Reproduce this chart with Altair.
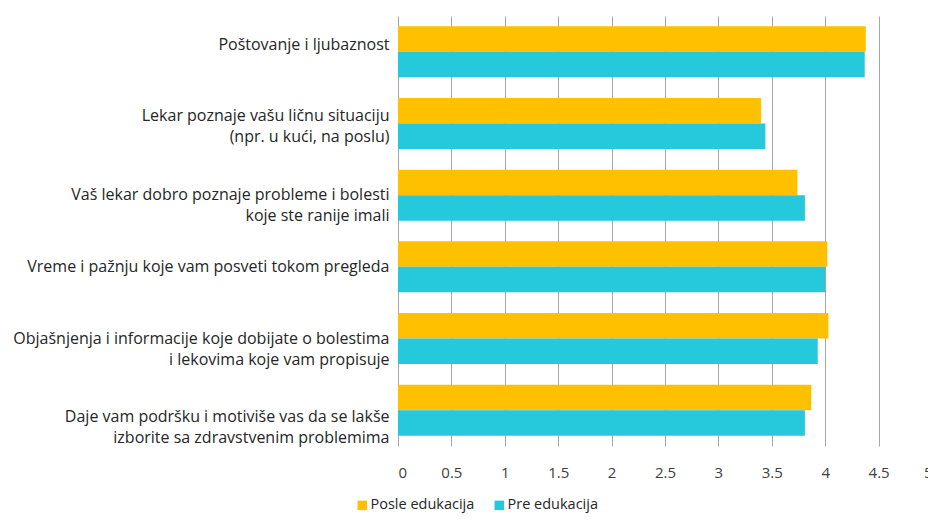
import altair as alt
import pandas as pd

categories = [
    "Poštovanje i ljubaznost",
    "Lekar poznaje vašu ličnu situaciju|(npr. u kući, na poslu)",
    "Vaš lekar dobro poznaje probleme i bolesti|koje ste ranije imali",
    "Vreme i pažnju koje vam posveti tokom pregleda",
    "Objašnjenja i informacije koje dobijate o bolestima|i lekovima koje vam propisuje",
    "Daje vam podršku i motiviše vas da se lakše|izborite sa zdravstvenim problemima",
]
label_shift = [-7, -8, 0, 0, 0, 7]
series = ["Posle edukacija", "Pre edukacija"]
posle = [4.38, 3.40, 3.74, 4.02, 4.03, 3.87]
pre = [4.37, 3.44, 3.81, 4.00, 3.93, 3.81]
x_ticks = [0, 0.5, 1, 1.5, 2, 2.5, 3, 3.5, 4, 4.5, 5]
colors = ["#FFC000", "#26C8DC"]

rows = []
for c, a, b in zip(categories, posle, pre):
    rows.append({"category": c, "series": series[0], "value": a})
    rows.append({"category": c, "series": series[1], "value": b})
df = pd.DataFrame(rows)

offset_conditions = [
    {"test": f"datum.value == '{c}'", "value": s}
    for c, s in zip(categories, label_shift) if s != 0
]

chart = alt.Chart(df).mark_bar().encode(
    x=alt.X(
        "value:Q",
        scale=alt.Scale(domain=[0, 5], nice=False, zero=True),
        axis=alt.Axis(
            values=x_ticks, title=None, grid=True, gridColor="#a6a6a6",
            domain=False, ticks=False, labelFontSize=15,
            labelColor="#404040", labelPadding=19, format="~g",
        ),
    ),
    y=alt.Y(
        "category:N", sort=categories,
        scale=alt.Scale(paddingInner=0.288, paddingOuter=0.144),
        axis=alt.Axis(
            title=None, ticks=False, domain=False,
            labelExpr="split(datum.label, '|')", labelFontSize=16,
            labelLineHeight=21, labelPadding=9, labelLimit=420,
            labelColor="#262626",
            labelOffset={"condition": offset_conditions, "value": 0},
        ),
    ),
    yOffset=alt.YOffset("series:N", sort=series,
                        scale=alt.Scale(paddingInner=0, paddingOuter=0)),
    color=alt.Color(
        "series:N",
        scale=alt.Scale(domain=series, range=colors),
        legend=alt.Legend(
            orient="none", legendX=-43, legendY=482, direction="horizontal",
            title=None, symbolType="square", symbolSize=90,
            labelFontSize=14.5, columnPadding=17, padding=0, labelOffset=1,
            symbolStrokeWidth=0, symbolOpacity=1, labelColor="#262626",
        ),
    ),
).properties(
    width=534, height=430,
    autosize=alt.AutoSizeParams(type="none"),
    padding={"left": 390, "top": 8, "right": -4, "bottom": 69},
).configure(font="Open Sans").configure_view(stroke=None)

chart.save("out.html", embed_options={"renderer": "svg", "actions": False})
